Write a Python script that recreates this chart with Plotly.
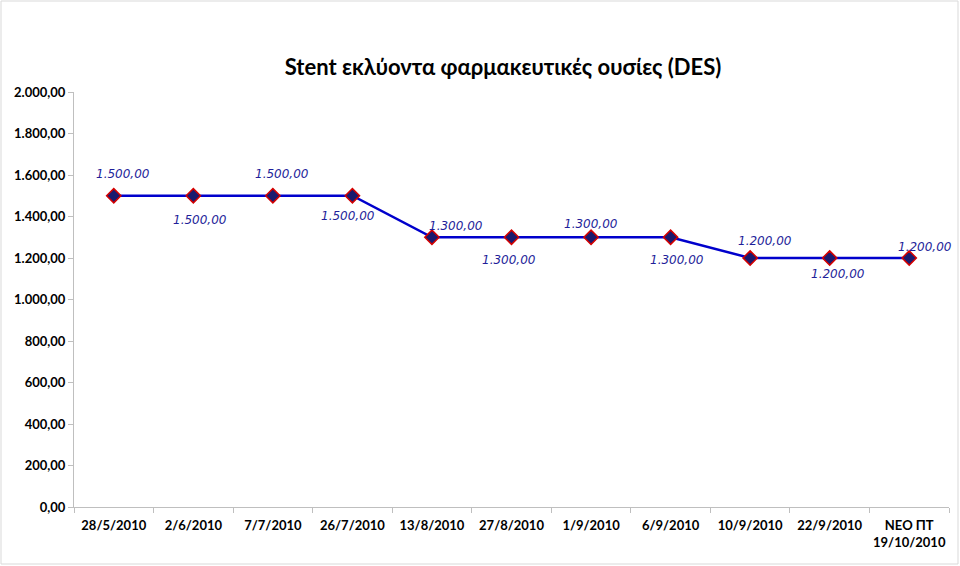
import plotly.graph_objects as go

categories = ["28/5/2010", "2/6/2010", "7/7/2010", "26/7/2010", "13/8/2010", "27/8/2010",
              "1/9/2010", "6/9/2010", "10/9/2010", "22/9/2010", "NEO ΠΤ<br>19/10/2010"]
values = [1500, 1500, 1500, 1500, 1300, 1300, 1300, 1300, 1200, 1200, 1200]
label_texts = ["1.500,00", "1.500,00", "1.500,00", "1.500,00", "1.300,00", "1.300,00",
               "1.300,00", "1.300,00", "1.200,00", "1.200,00", "1.200,00"]
y_ticks = [0, 200, 400, 600, 800, 1000, 1200, 1400, 1600, 1800, 2000]

# label offsets (pixels) relative to each point
x_shifts = [9, 7, 9, -4, 24, -3, 0, 6, 15, 8, 16]
y_shifts = [22, -24, 22, -20, 11, -23, 13, -23, 17, -16, 11]

W, H = 960, 566
ml, mr, mt, mb = 74, 11, 92, 59

fig = go.Figure()
fig.add_trace(go.Scatter(
    x=categories, y=values, mode="lines+markers",
    line=dict(color="#0000cc", width=2.5),
    marker=dict(symbol="diamond", size=11, color="#1a1a6e",
                line=dict(color="#d40000", width=1.5)),
    hoverinfo="skip", showlegend=False,
))

annotations = []
for c, v, t, dx, dy in zip(categories, values, label_texts, x_shifts, y_shifts):
    annotations.append(dict(x=c, y=v, text="<i>" + t + "</i>", showarrow=False,
                            xshift=dx, yshift=dy,
                            font=dict(family="DejaVu Sans, Verdana", size=12, color="#1f1f9a")))

pw = W - ml - mr
ph = H - mt - mb
bx0 = (1 - ml) / pw
bx1 = (W - 2 - ml) / pw
by0 = -(H - 2 - mt - ph) / ph
by1 = 1 + (mt - 1) / ph

fig.update_layout(
    width=W, height=H,
    margin=dict(l=ml, r=mr, t=mt, b=mb, autoexpand=False),
    paper_bgcolor="white", plot_bgcolor="white",
    separators=",.",
    title=dict(text="<b>Stent εκλύοντα φαρμακευτικές ουσίες (DES)</b>",
               x=503 / W, xanchor="center", y=1 - 67 / H, yanchor="middle",
               font=dict(family="Lato, Noto Sans", size=22, color="black")),
    annotations=annotations,
    shapes=[dict(type="rect", xref="paper", yref="paper", x0=bx0, x1=bx1, y0=by0, y1=by1,
                 line=dict(color="#d9d9d9", width=1), layer="below")],
    xaxis=dict(type="category", showgrid=False, showline=True, linecolor="#bfbfbf",
               ticks="outside", tickson="boundaries", ticklen=5, tickcolor="#bfbfbf",
               tickangle=0, automargin=False,
               tickfont=dict(family="Lato, Noto Sans", size=13, color="black", weight="bold"),
               ticklabelstandoff=6, range=[-0.5, 10.5], zeroline=False),
    yaxis=dict(range=[0, 2000], tickvals=y_ticks, tickformat=",.2f", showgrid=False,
               showline=True, linecolor="#bfbfbf", ticks="outside", ticklen=5,
               tickcolor="#bfbfbf", zeroline=False, automargin=False,
               tickfont=dict(family="Lato, Noto Sans", size=13, color="black", weight="bold")),
)

fig.write_html("out.html")
